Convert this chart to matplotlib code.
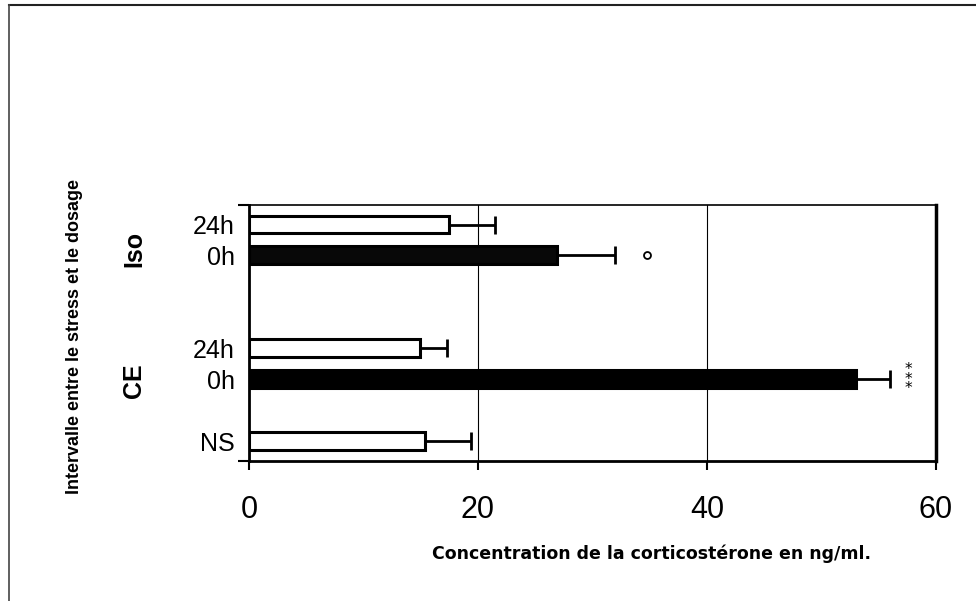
import matplotlib
matplotlib.use("Agg")
import matplotlib.pyplot as plt
from matplotlib.lines import Line2D
from matplotlib.ticker import FixedLocator

# corticosterone (ng/ml), one row per bar, bottom to top
groups = ["", "CE", "Iso"]
bar_labels = [["NS"], ["0h", "24h"], ["0h", "24h"]]
means = [15.4, 53.0, 14.9, 26.9, 17.5]
errors = [4.0, 3.0, 2.4, 5.1, 4.0]
fills = ["white", "black", "white", "#080808", "white"]
signif = ["", "***", "", "o", ""]

x_ticks = [0, 20, 40, 60]
x_label = "Concentration de la corticostérone en ng/ml."
y_label = "Intervalle entre le stress et le dosage"

# bar slots: an empty slot between NS and CE, two between CE and Iso
gap_after = [1, 2, 0]
positions, labels, group_centres = [], [], []
pos = 0
for g, names, gap in zip(groups, bar_labels, gap_after):
    start = pos
    for n in names:
        positions.append(pos)
        labels.append(n)
        pos += 1
    group_centres.append((start + pos - 1) / 2)
    pos += gap

fig = plt.figure(figsize=(9.76, 6.01), dpi=100)
ax = fig.add_axes([249 / 976, 1 - 461 / 601, (936 - 249) / 976, (461 - 205) / 601])

ax.barh(positions, means, height=0.58, color=fills, edgecolor="black",
        linewidth=2.2, zorder=3)
ax.errorbar(means, positions, xerr=[[0] * len(errors), errors], fmt="none",
            ecolor="black", elinewidth=2.0, capsize=6.5, capthick=2.0, zorder=4)

for m, e, p, s in zip(means, errors, positions, signif):
    if s == "o":
        ax.plot(m + e + 2.8, p, marker="o", ms=5, mfc="white", mec="black",
                mew=1.3, zorder=5, clip_on=False)
    elif s:
        ax.text(m + e + 1.6, p, "\n".join(s), ha="center", va="center",
                fontsize=11, linespacing=0.55, family="DejaVu Sans")

ax.set_xlim(0, 60)
ax.set_ylim(-0.64, 7.63)
ax.set_xticks(x_ticks)
ax.set_xticklabels([str(t) for t in x_ticks], family="Liberation Sans", fontsize=22)
ax.tick_params(axis="x", direction="out", length=6.5, width=1.5, pad=18)

ax.set_yticks(positions)
ax.set_yticklabels(labels, family="Liberation Sans", fontsize=18)
ax.tick_params(axis="y", which="major", length=0, pad=10)
ax.yaxis.set_minor_locator(FixedLocator(ax.get_ylim()))
ax.tick_params(axis="y", which="minor", direction="out", length=8, width=1.5)

ax.grid(axis="x", color="black", linewidth=0.8, zorder=0)
ax.set_axisbelow(True)
for side, lw in [("left", 2.0), ("right", 2.5), ("bottom", 2.0), ("top", 1.2)]:
    ax.spines[side].set_linewidth(lw)
    ax.spines[side].set_color("black")

# group names to the left of the tick labels
group_shift = {"CE": 17, "Iso": 9}
for g, c in zip(groups, group_centres):
    if not g:
        continue
    y_disp = ax.transData.transform((0, c))[1]
    fig.text(134 / 976, (y_disp - group_shift[g]) / 601, g, rotation=90, ha="center",
             va="center", fontsize=18, fontweight="bold", family="Liberation Sans")

fig.text(651 / 976, 1 - 554 / 601, x_label, ha="center", va="center",
         fontsize=12.5, fontweight="bold", family="DejaVu Sans")
fig.text(75 / 976, 1 - 337 / 601, y_label, rotation=90, ha="center", va="center",
         fontsize=13, fontweight="bold", family="Liberation Sans")

# page frame
fig.add_artist(Line2D([9 / 976, 1], [1 - 5 / 601] * 2, color="#222222", lw=1.5))
fig.add_artist(Line2D([9 / 976] * 2, [0, 1 - 5 / 601], color="#444444", lw=1.2))

fig.savefig("out.png", dpi=100)
